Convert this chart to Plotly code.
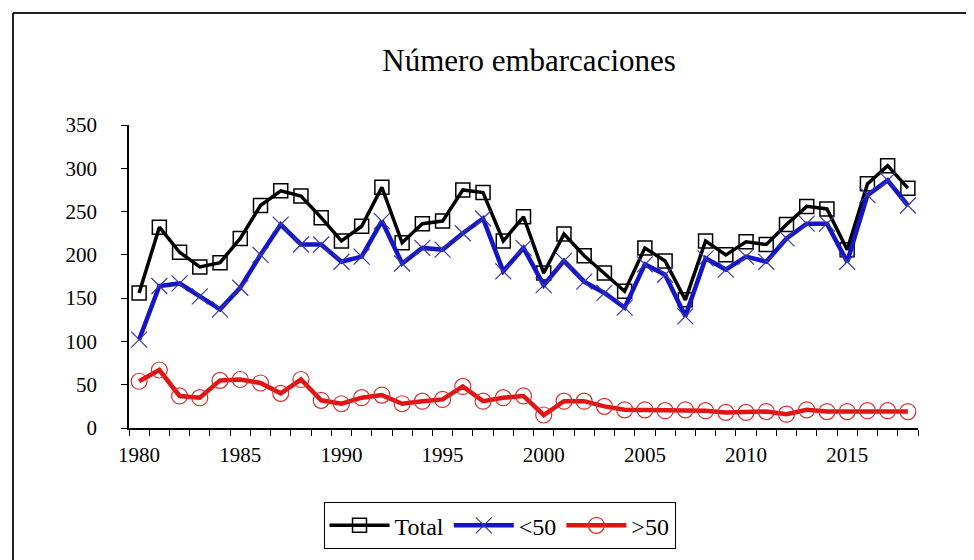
import plotly.graph_objects as go

years = list(range(1980, 2019))

total = [156, 232, 203, 186, 191, 219, 257, 274, 268, 243, 216, 233, 278, 214,
         236, 239, 275, 272, 216, 244, 179, 224, 199, 179, 158, 208, 193, 148,
         216, 200, 215, 212, 235, 256, 253, 206, 282, 303, 277]

menor50 = [102, 164, 167, 152, 137, 162, 200, 235, 212, 212, 192, 198, 239, 190,
           208, 206, 225, 242, 181, 208, 165, 193, 169, 156, 139, 189, 177, 129,
           196, 183, 198, 192, 219, 236, 236, 192, 269, 286, 257]

mayor50 = [54, 67, 37, 35, 55, 56, 52, 40, 56, 32, 28, 35, 38, 28,
           31, 33, 48, 31, 35, 37, 15, 31, 31, 25, 21, 21, 20, 21,
           20, 18, 18, 19, 16, 21, 19, 19, 20, 20, 19]

label_years = [1980, 1985, 1990, 1995, 2000, 2005, 2010, 2015]
y_ticks = [0, 50, 100, 150, 200, 250, 300, 350]

FONT = "Liberation Serif"

fig = go.Figure()
fig.add_trace(go.Scatter(
    x=years, y=total, name="Total", mode="lines+markers",
    line=dict(color="#000000", width=3.5),
    marker=dict(symbol="square-open", size=14, color="#000000", line=dict(width=1.5)),
))
fig.add_trace(go.Scatter(
    x=years, y=menor50, name="<50", mode="lines+markers",
    line=dict(color="#1414c8", width=4.5),
    marker=dict(symbol="x-thin-open", size=16, color="#3a3aa8", line=dict(width=1.2, color="#3a3aa8")),
))
fig.add_trace(go.Scatter(
    x=years, y=mayor50, name=">50", mode="lines+markers",
    line=dict(color="#e01414", width=4.5),
    marker=dict(symbol="circle-open", size=16, color="#d83030", line=dict(width=1.2)),
))

fig.update_layout(
    width=974, height=560,
    margin=dict(l=121, r=64, t=117, b=140),
    paper_bgcolor="white", plot_bgcolor="white",
    font=dict(family=FONT, color="#000000", size=21),
    title=dict(text="Número embarcaciones", x=0.535, xref="container", xanchor="center",
               y=1 - 52 / 560, yref="container", yanchor="middle",
               font=dict(family=FONT, size=31, color="#000000")),
    showlegend=True,
    legend=dict(orientation="h", x=0.4696, xanchor="center", y=-0.245, yanchor="top",
                bordercolor="#000000", borderwidth=1, bgcolor="white",
                font=dict(family=FONT, size=24, color="#000000"),
                itemwidth=60, tracegroupgap=0),
    xaxis=dict(
        range=[1979.5, 2018.5], tickmode="array", tickvals=label_years,
        ticktext=[str(v) for v in label_years], ticks="", showgrid=False, zeroline=False,
        showline=True, linecolor="#000000", linewidth=1.5,
        ticklabelstandoff=7,
        tickfont=dict(family=FONT, size=21, color="#000000"),
        minor=dict(tickmode="array", tickvals=[y - 0.5 for y in years] + [2018.5],
                   ticks="outside", ticklen=6, tickcolor="#000000", tickwidth=1.2, showgrid=False),
    ),
    yaxis=dict(
        range=[0, 350], tickmode="array", tickvals=y_ticks,
        ticks="outside", ticklen=6, tickcolor="#000000", tickwidth=1.2,
        showgrid=False, zeroline=False,
        showline=True, linecolor="#000000", linewidth=1.5,
        ticklabelstandoff=20,
        tickfont=dict(family=FONT, size=21, color="#000000"),
    ),
    shapes=[
        dict(type="line", xref="paper", yref="paper", x0=(5 - 121) / 789, x1=1.2,
             y0=(420 - 5) / 303, y1=(420 - 5) / 303, line=dict(color="#222222", width=2)),
        dict(type="line", xref="paper", yref="paper", x0=(5 - 121) / 789, x1=(5 - 121) / 789,
             y0=(420 - 5) / 303, y1=-0.7, line=dict(color="#222222", width=2)),
    ],
)

fig.write_html("out.html")
